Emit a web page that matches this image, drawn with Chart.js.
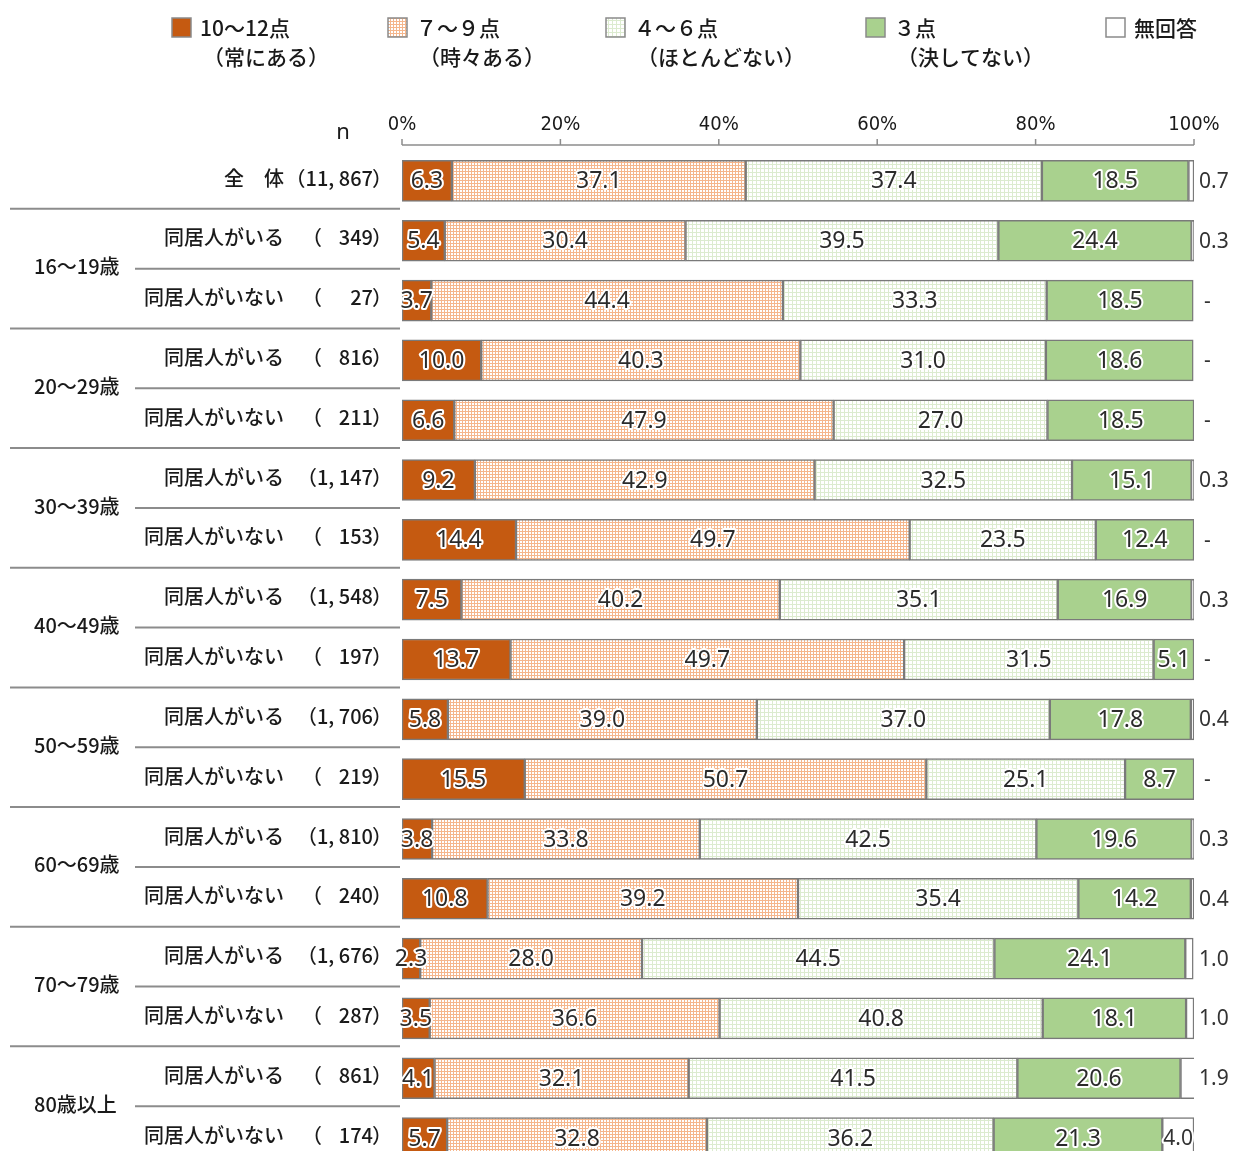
<!DOCTYPE html>
<html><head><meta charset="utf-8">
<script src="https://cdn.jsdelivr.net/npm/chart.js@4"></script>
<style>
html,body{margin:0;padding:0;background:#fff;overflow:hidden;}
#wrap{width:1234px;height:1170px;}
</style></head>
<body><div id="wrap"><canvas id="c" width="1234" height="1170"></canvas></div>
<script>
// ---- data ----
const groupLabels = ["", "16～19歳", "20～29歳", "30～39歳", "40～49歳", "50～59歳", "60～69歳", "70～79歳", "80歳以上"];
const subLabels = ["全　体",
  "同居人がいる","同居人がいない","同居人がいる","同居人がいない","同居人がいる","同居人がいない",
  "同居人がいる","同居人がいない","同居人がいる","同居人がいない","同居人がいる","同居人がいない",
  "同居人がいる","同居人がいない","同居人がいる","同居人がいない"];
const nValues = ["11, 867","349","27","816","211","1, 147","153","1, 548","197","1, 706","219","1, 810","240","1, 676","287","861","174"];
const seriesNames = [["10～12点","（常にある）"],["７～９点","（時々ある）"],["４～６点","（ほとんどない）"],["３点","（決してない）"],["無回答",""]];
const always    = [6.3,5.4,3.7,10.0,6.6,9.2,14.4,7.5,13.7,5.8,15.5,3.8,10.8,2.3,3.5,4.1,5.7];
const sometimes = [37.1,30.4,44.4,40.3,47.9,42.9,49.7,40.2,49.7,39.0,50.7,33.8,39.2,28.0,36.6,32.1,32.8];
const rarely    = [37.4,39.5,33.3,31.0,27.0,32.5,23.5,35.1,31.5,37.0,25.1,42.5,35.4,44.5,40.8,41.5,36.2];
const never     = [18.5,24.4,18.5,18.6,18.5,15.1,12.4,16.9,5.1,17.8,8.7,19.6,14.2,24.1,18.1,20.6,21.3];
const noAnswer  = [0.7,0.3,null,null,null,0.3,null,0.3,null,0.4,null,0.3,0.4,1.0,1.0,1.9,4.0];
const xTicks = [0,20,40,60,80,100];

// ---- patterns ----
function makePattern(size, bg, line, draw){
  const p = document.createElement('canvas'); p.width = size; p.height = size;
  const g = p.getContext('2d'); g.fillStyle = bg; g.fillRect(0,0,size,size);
  g.fillStyle = line; draw(g);
  return g.createPattern(p,'repeat');
}
const orangeDots = makePattern(3,'#ffffff','#F5B68C',g=>{g.fillRect(0,0,3,1);g.fillRect(0,0,1,3);});
const greenGrid = makePattern(4,'#ffffff','#DCEBCF',g=>{g.fillRect(0,0,4,1);g.fillRect(0,0,1,4);});
const fills = ['#C55A11', orangeDots, greenGrid, '#A9D18E', '#ffffff'];
const legendFills = ['#C55A11', orangeDots, greenGrid, '#A9D18E', '#ffffff'];
const seriesData = [always, sometimes, rarely, never, noAnswer.map(v=>v===null?0:v)];

const JP = '"Noto Sans CJK JP", "Noto Sans", sans-serif';
const NUM = '"Noto Sans", "Open Sans", sans-serif';

const decor = {
  id:'decor',
  afterDraw(chart){
    const c = chart.ctx, ys = chart.scales.y, xs = chart.scales.x;
    c.save();
    // legend
    const legX = [172, 388, 606, 866, 1106];
    c.textBaseline = 'middle';
    seriesNames.forEach((nm,i)=>{
      const x = legX[i];
      c.fillStyle = legendFills[i]; c.fillRect(x,18,19,19);
      c.strokeStyle = '#8a8a8a'; c.lineWidth = 1.5; c.strokeRect(x,18,19,19);
      c.fillStyle = '#1a1a1a'; c.font = '500 21px ' + JP; c.textAlign = 'left';
      c.fillText(nm[0], x+28, 28);
      if (nm[1]) c.fillText(nm[1], x+31, 57);
    });
    // axis line + ticks
    c.strokeStyle = '#8c8c8c'; c.lineWidth = 1.5;
    c.beginPath(); c.moveTo(xs.getPixelForValue(0),145); c.lineTo(xs.getPixelForValue(100),145); c.stroke();
    xTicks.forEach(t=>{ const px = xs.getPixelForValue(t); c.beginPath(); c.moveTo(px,139); c.lineTo(px,145); c.stroke(); });
    // n header
    c.fillStyle = '#1a1a1a'; c.font = '22px ' + NUM; c.textAlign = 'center';
    c.fillText('n', 343, 133);
    // left labels
    c.font = '500 20px ' + JP;
    subLabels.forEach((s,i)=>{
      const y = ys.getPixelForValue(i) - 3;
      c.textAlign = 'right'; c.fillStyle = '#1a1a1a';
      c.fillText(s, 284, y);
      c.textAlign = 'right'; c.fillText(nValues[i], 373, y);
      const w = c.measureText(nValues[i]).width;
      c.textAlign = 'left';
      c.fillText('（', Math.min(302, 373 - w - 20), y);
      c.fillText('）', 372, y);
    });
    // group labels & separators
    c.strokeStyle = '#8c8c8c'; c.lineWidth = 2;
    const line = (x0,y)=>{c.beginPath();c.moveTo(x0,y);c.lineTo(400,y);c.stroke();};
    line(10,(ys.getPixelForValue(0)+ys.getPixelForValue(1))/2 - 2);
    for (let g=1; g<groupLabels.length; g++){
      const a = 2*g-1, b = 2*g;
      const ya = ys.getPixelForValue(a), yb = ys.getPixelForValue(b);
      c.textAlign = 'left'; c.fillStyle = '#1a1a1a';
      c.fillText(groupLabels[g], 34, (ya+yb)/2 - 4);
      line(135,(ya+yb)/2 - 2);
      if (g < groupLabels.length-1) line(10,(yb+ys.getPixelForValue(b+1))/2 - 2);
    }
    // value labels
    c.font = '23px ' + NUM; c.lineJoin = 'round';
    chart.data.datasets.forEach((ds,di)=>{
      const meta = chart.getDatasetMeta(di);
      meta.data.forEach((el,i)=>{
        let txt, x, align = 'center';
        const y = el.y + 1;
        if (di === 4){
          const v = noAnswer[i];
          c.font = '21px ' + NUM;
          if (v === null){ txt = '-'; x = 1204; align='left'; }
          else if (v >= 3){ txt = v.toFixed(1); x = (el.x+el.base)/2; }
          else { txt = v.toFixed(1); x = 1199; align='left'; }
          c.textAlign = align; c.fillStyle = '#333';
          if (align==='center'){ c.strokeStyle='#fff'; c.lineWidth=4; c.strokeText(txt,x,y); }
          c.fillText(txt, x, y);
          c.font = '23px ' + NUM;
          return;
        }
        txt = ds.data[i].toFixed(1); x = (el.x+el.base)/2;
        c.textAlign = 'center';
        c.strokeStyle = '#ffffff'; c.lineWidth = 4; c.strokeText(txt, x, y);
        c.fillStyle = '#2b2b2b'; c.fillText(txt, x, y);
      });
    });
    c.restore();
  }
};

new Chart(document.getElementById('c'), {
  type:'bar',
  data:{
    labels: subLabels.map((s,i)=>i),
    datasets: seriesData.map((d,i)=>({
      label: seriesNames[i][0], data: d,
      backgroundColor: fills[i], borderColor:'#7a7a7a', borderWidth:1.5,
      barThickness:41, borderSkipped:false
    }))
  },
  options:{
    indexAxis:'y', responsive:false, animation:false, devicePixelRatio:1,
    layout:{padding:{left:402, right:40, top:107, bottom:2}},
    plugins:{legend:{display:false}, tooltip:{enabled:false}},
    scales:{
      x:{position:'top', stacked:true, min:0, max:100,
         grid:{display:false}, border:{display:false},
         afterBuildTicks(s){ s.ticks = xTicks.map(v=>({value:v})); },
         ticks:{padding:6, color:'#1a1a1a', font:{family:'"Liberation Sans Narrow", "DejaVu Sans Condensed", sans-serif', size:20},
                callback:v=>v+'%'}},
      y:{stacked:true, display:false}
    }
  },
  plugins:[decor]
});
</script></body></html>
